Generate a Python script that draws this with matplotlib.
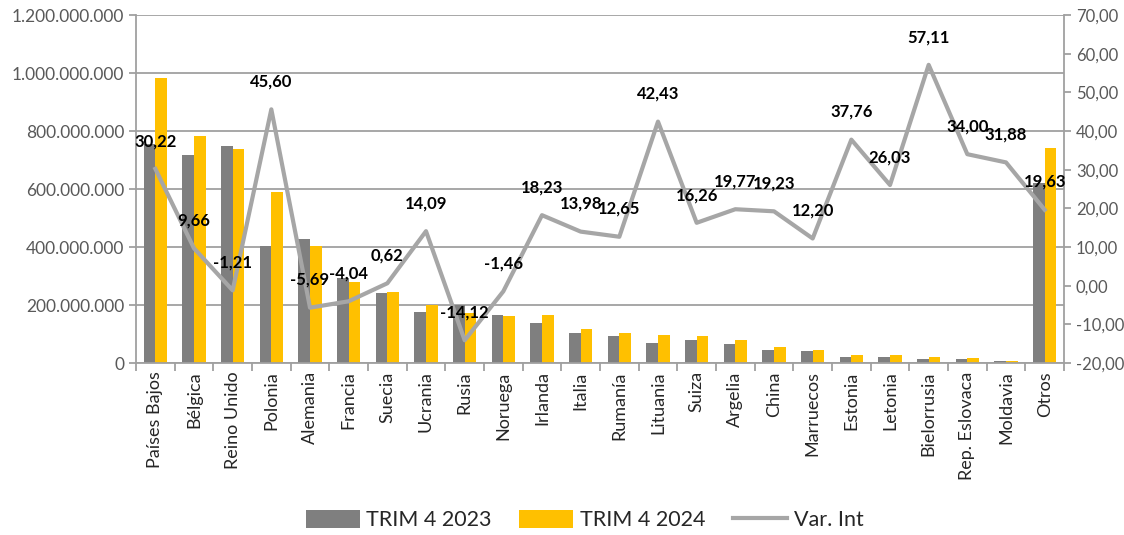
import numpy as np
import matplotlib
matplotlib.use("Agg")
import matplotlib.pyplot as plt
from matplotlib.ticker import FuncFormatter, MultipleLocator

plt.rcParams['font.family'] = ['Lato', 'DejaVu Sans']

paises = ['Países Bajos', 'Bélgica', 'Reino Unido', 'Polonia', 'Alemania', 'Francia',
          'Suecia', 'Ucrania', 'Rusia', 'Noruega', 'Irlanda', 'Italia', 'Rumanía',
          'Lituania', 'Suiza', 'Argelia', 'China', 'Marruecos', 'Estonia', 'Letonia',
          'Bielorrusia', 'Rep. Eslovaca', 'Moldavia', 'Otros']

# millones de euros
trim4_2023 = [755, 716, 748, 405, 428, 294, 243, 176, 200, 166, 139, 103, 92,
              68, 80, 67, 45, 40, 19.5, 21, 13.8, 13.8, 5.7, 620]
trim4_2024 = [983, 784, 739, 589, 404, 281, 244, 201, 172, 163, 164, 117, 103,
              96, 92, 80, 54, 45, 27, 26.5, 21.7, 18.5, 7.5, 742]
var_int = [30.22, 9.66, -1.21, 45.60, -5.69, -4.04, 0.62, 14.09, -14.12, -1.46,
           18.23, 13.98, 12.65, 42.43, 16.26, 19.77, 19.23, 12.20, 37.76, 26.03,
           57.11, 34.00, 31.88, 19.63]

gris = '#7F7F7F'
amarillo = '#FFC000'
linea = '#A6A6A6'
texto = '#595959'
eje = '#A0A0A0'

fig = plt.figure(figsize=(11.24, 5.35), dpi=100)
ax = fig.add_axes([136 / 1124, 1 - 363 / 535, (1064 - 136) / 1124, (363 - 15) / 535])
ax2 = ax.twinx()

x = np.arange(len(paises))
w = 0.30
ax.bar(x - w / 2, np.array(trim4_2023) * 1e6, w, color=gris, label='TRIM 4 2023', zorder=2)
ax.bar(x + w / 2, np.array(trim4_2024) * 1e6, w, color=amarillo, label='TRIM 4 2024', zorder=2)

ax.set_ylim(0, 1.2e9)
ax.yaxis.set_major_locator(MultipleLocator(2e8))
ax.yaxis.set_major_formatter(FuncFormatter(lambda v, p: f"{int(v):,}".replace(",", ".")))
ax.grid(axis='y', color=eje, linewidth=1.3, zorder=0)
ax.set_axisbelow(True)
ax.set_xlim(-0.5, len(paises) - 0.5)
ax.set_xticks(x)
ax.set_xticklabels(paises, rotation=90, fontsize=13, color='#262626')
ax.set_xticks(np.arange(-0.5, len(paises)), minor=True)
ax.tick_params(axis='x', which='major', length=0, pad=6)
ax.tick_params(axis='x', which='minor', length=6, color=eje, width=1.3)
ax.tick_params(axis='y', length=5, color=eje, width=1.3, labelsize=12.5, labelcolor=texto)

for s in ['top', 'right']:
    ax.spines[s].set_visible(False)
for s in ['left', 'bottom']:
    ax.spines[s].set_color(eje)
    ax.spines[s].set_linewidth(1.3)

ax2.plot(x, var_int, color=linea, linewidth=3, label='Var. Int', zorder=3)
ax2.set_ylim(-20, 70)
ax2.yaxis.set_major_locator(MultipleLocator(10))
ax2.yaxis.set_major_formatter(FuncFormatter(lambda v, p: f"{v:.2f}".replace(".", ",")))
ax2.tick_params(axis='y', length=5, color=eje, width=1.3, labelsize=12, labelcolor=texto)
for s in ['top', 'left', 'bottom']:
    ax2.spines[s].set_visible(False)
ax2.spines['right'].set_color(eje)
ax2.spines['right'].set_linewidth(1.3)

for xi, v in zip(x, var_int):
    ax2.annotate(f"{v:.2f}".replace(".", ","), (xi, v), xytext=(0, 20),
                 textcoords='offset points', ha='center', va='center',
                 fontsize=12, fontweight='bold', color='black', zorder=5)

h1, l1 = ax.get_legend_handles_labels()
h2, l2 = ax2.get_legend_handles_labels()
fig.legend(h1 + h2, l1 + l2, loc='center', bbox_to_anchor=(0.52, 1 - 520 / 535),
           ncol=3, frameon=False, fontsize=15.5, handlelength=2.5, handleheight=0.95,
           columnspacing=1.3, handletextpad=0.3, labelcolor='#262626')

fig.savefig('out.png', dpi=100)
